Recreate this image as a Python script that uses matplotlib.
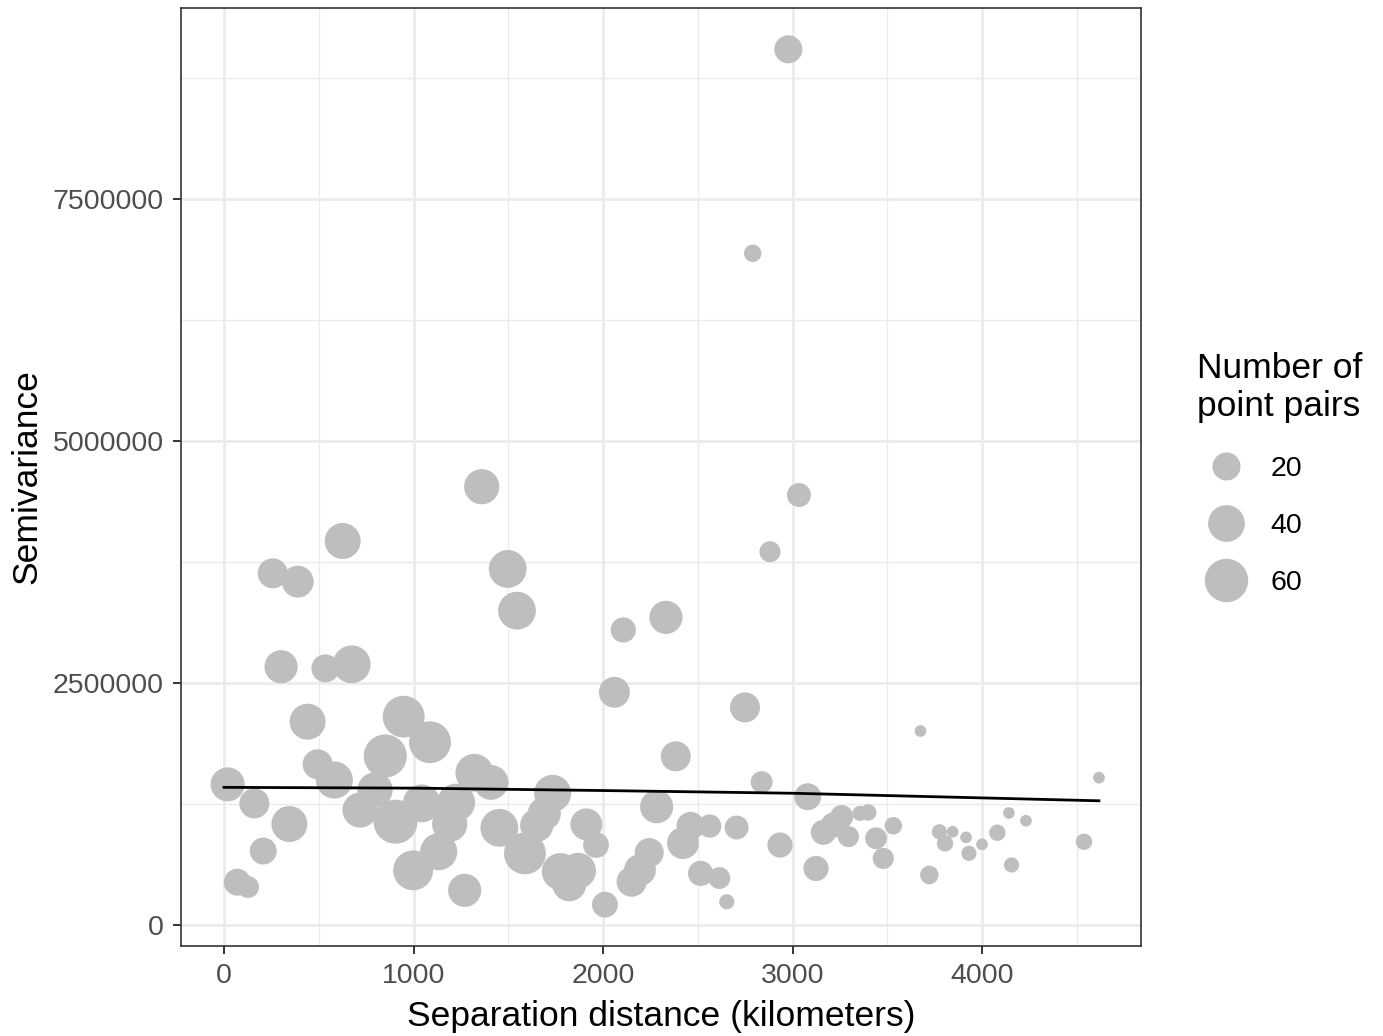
#!/usr/bin/env python3
"""
Semivariogram cloud: semivariance vs separation distance, point size = number of pairs.
"""
import numpy as np
import matplotlib
matplotlib.use("Agg")
import matplotlib.pyplot as plt
from matplotlib.lines import Line2D

plt.rcParams['font.family'] = ['Liberation Sans', 'DejaVu Sans']

# separation distance (km), semivariance, number of point pairs
distance = [2978, 2790, 3034, 2881, 1360, 626, 257, 389, 1497, 1546,
            2107, 2332, 301, 535, 674, 2060, 2749, 3675, 441, 948,
            1087, 851, 494, 582, 19, 1321, 1409, 1734, 2384, 2837,
            4617, 3080, 160, 345, 718, 797, 905, 1043, 1225, 1191,
            1453, 1133, 998, 1270, 1588, 1650, 1690, 1912, 1963, 1775,
            1868, 1822, 2010, 207, 70, 127, 2283, 2462, 2563, 2705,
            2422, 2244, 2195, 2151, 2515, 2614, 2653, 2934, 3124, 3163,
            3216, 3259, 3295, 3356, 3400, 3441, 3532, 3479, 3722, 3775,
            3845, 3805, 3916, 3931, 4000, 4081, 4142, 4232, 4156, 4538]
semivariance = [9046000, 6939000, 4442000, 3856000, 4528000, 3967000, 3633000, 3547000, 3678000, 3247000,
                3048000, 3178000, 2668000, 2651000, 2693000, 2404000, 2248000, 2004000, 2100000, 2152000,
                1888000, 1746000, 1660000, 1498000, 1453000, 1573000, 1473000, 1360000, 1742000, 1477000,
                1522000, 1325000, 1256000, 1043000, 1188000, 1395000, 1067000, 1256000, 1265000, 1040000,
                1004000, 757000, 565000, 358000, 740000, 1030000, 1150000, 1040000, 826000, 551000,
                560000, 420000, 210000, 764000, 442000, 392000, 1222000, 1024000, 1022000, 1007000,
                846000, 748000, 567000, 447000, 533000, 485000, 240000, 826000, 584000, 958000,
                1033000, 1119000, 913000, 1153000, 1163000, 896000, 1025000, 688000, 517000, 963000,
                963000, 843000, 905000, 740000, 833000, 953000, 1157000, 1077000, 620000, 860000]
n_pairs = [20, 5, 13, 9, 36, 38, 24, 28, 43, 43,
           15, 31, 31, 20, 43, 26, 24, 1, 38, 55,
           55, 59, 24, 41, 33, 43, 35, 41, 24, 10,
           1, 18, 24, 38, 36, 36, 62, 43, 43, 36,
           43, 41, 49, 31, 55, 31, 31, 28, 16, 41,
           38, 33, 16, 18, 18, 10, 31, 20, 12, 13,
           28, 22, 28, 24, 15, 10, 3, 15, 15, 15,
           15, 12, 9, 3, 4, 10, 5, 9, 6, 3,
           1, 4, 1, 3, 1, 4, 1, 1, 3, 4]

# fitted smooth trend
trend_x = [0, 1000, 2000, 3000, 4000, 4617]
trend_y = [1422000, 1414000, 1389000, 1361000, 1313000, 1283000]

legend_sizes = [20, 40, 60]

DPI = 100
PX2PT = 72 / DPI


def marker_diam_pt(n):
    # diameter in px grows with sqrt of count, like an area scale
    return (7 + 4.7 * np.sqrt(np.asarray(n, dtype=float))) * PX2PT


fig = plt.figure(figsize=(13.83, 10.36), dpi=DPI)
ax = fig.add_axes([181 / 1383, 90 / 1036, 960 / 1383, 938 / 1036])

grid_col = '#EBEBEB'
for v in np.arange(-500, 5000, 500):
    ax.axvline(v, color=grid_col, lw=1.0 if v % 1000 else 2.0, zorder=0)
for v in np.arange(-1250000, 9500000, 1250000):
    ax.axhline(v, color=grid_col, lw=1.0 if v % 2500000 else 2.0, zorder=0)

ax.scatter(distance, semivariance, s=marker_diam_pt(n_pairs) ** 2,
           color='#BEBEBE', edgecolors='none', zorder=2)
ax.plot(trend_x, trend_y, color='black', lw=2.0, zorder=3)

ax.set_xlim(-227, 4839)
ax.set_ylim(-217000, 9473000)
ax.set_xticks([0, 1000, 2000, 3000, 4000])
ax.set_yticks([0, 2500000, 5000000, 7500000])
ax.set_yticklabels(['0', '2500000', '5000000', '7500000'])
ax.tick_params(axis='both', direction='out', length=6, width=1.4,
               color='#333333', labelcolor='#4D4D4D', labelsize=20.5)
ax.tick_params(axis='x', pad=6.5)
ax.tick_params(axis='y', pad=6.5)
for sp in ax.spines.values():
    sp.set_color('#333333')
    sp.set_linewidth(1.2)

ax.set_xlabel('Separation distance (kilometers)', fontsize=25.5, labelpad=8)
ax.set_ylabel('Semivariance', fontsize=25.5, labelpad=6.5)

handles = [Line2D([], [], marker='o', ls='', color='#BEBEBE', markeredgewidth=0,
                  markersize=marker_diam_pt(v)) for v in legend_sizes]
leg = fig.legend(handles, [str(v) for v in legend_sizes], title='Number of\npoint pairs',
                 loc='upper left', bbox_to_anchor=(1186 / 1383, 1 - 341 / 1036),
                 frameon=False, fontsize=20.5, title_fontsize=25.5,
                 labelspacing=1.1, handletextpad=0.56, borderaxespad=0)
leg._legend_box.align = 'left'
leg._legend_box.sep = 1.1 * 20.5 + 1.0
leg.get_title().set_linespacing(1.17)

fig.savefig('out.png', dpi=DPI)
